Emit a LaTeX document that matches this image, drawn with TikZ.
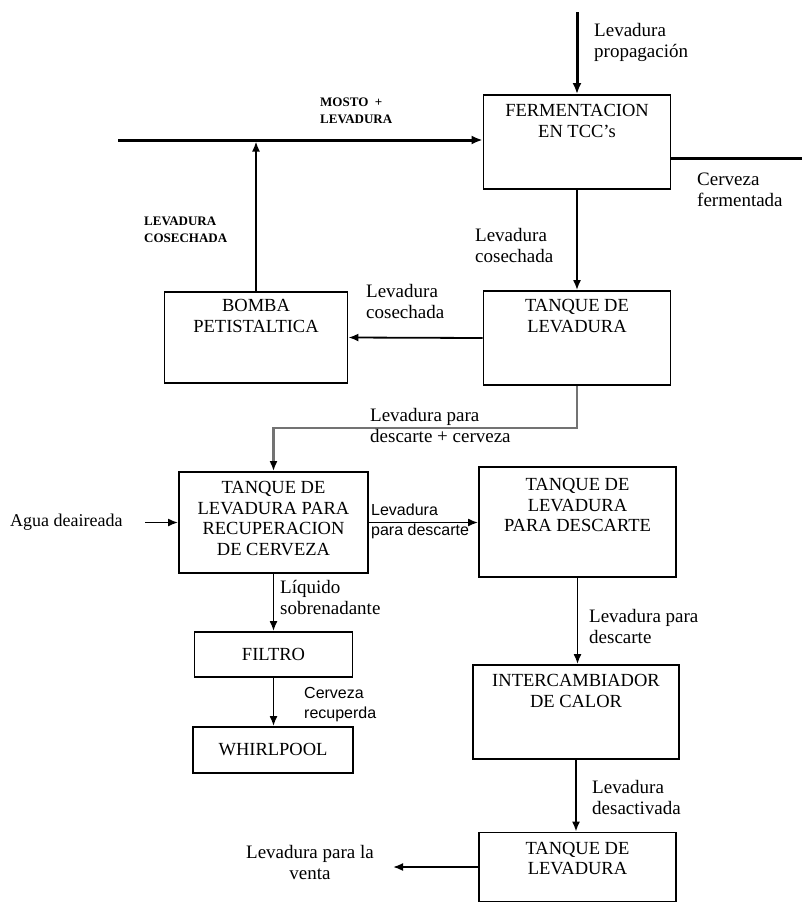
\documentclass[tikz,border=0pt]{standalone}
\usepackage{fontspec}
\setmainfont{Liberation Serif}
\newfontfamily\lsans{Liberation Sans}
\usetikzlibrary{arrows.meta,positioning}
\begin{document}
\begin{tikzpicture}[x=1pt,y=-1pt,
  box/.style={draw, line width=1.8pt, rectangle, inner sep=0pt},
  btxt/.style={font=\fontsize{18.5}{20.5}\selectfont, align=center, anchor=north, inner sep=0pt},
  ctxt/.style={font=\fontsize{18.5}{20.5}\selectfont},
  lbl/.style={font=\fontsize{19}{21}\selectfont, align=left, anchor=west, inner sep=0pt},
  slbl/.style={font=\lsans\fontsize{16}{20}\selectfont, align=left, anchor=west, inner sep=0pt},
  clbl/.style={font=\bfseries\fontsize{13}{17}\selectfont, align=left, anchor=west, inner sep=0pt},
  flow/.style={line width=1.8pt, -{Latex[length=10pt,width=8pt]}},
  grayflow/.style={line width=2.2pt, draw=black!55, -{Latex[length=10pt,width=8pt,color=black]}},
  thickflow/.style={line width=3pt, -{Latex[length=11pt,width=9pt]}},
]
\useasboundingbox (0,0) rectangle (802,903);

% boxes
\node[box, minimum width=187pt, minimum height=94pt] (ferm) at (577,142) {};
\node[box, minimum width=187pt, minimum height=94pt] (tq1) at (577,338) {};
\node[box, minimum width=183pt, minimum height=91pt] (bomba) at (256,337.5) {};
\node[box, minimum width=189pt, minimum height=101pt] (recup) at (273.5,522.5) {};
\node[box, minimum width=197pt, minimum height=110pt] (desc) at (577.5,522) {};
\node[box, minimum width=158pt, minimum height=45pt, ctxt] (filtro) at (273.5,654.5) {FILTRO};
\node[box, minimum width=160pt, minimum height=46pt, ctxt] (whirl) at (273,750) {WHIRLPOOL};
\node[box, minimum width=206pt, minimum height=94pt] (inter) at (576,712) {};
\node[box, minimum width=197pt, minimum height=69pt] (tq2) at (577.5,867) {};

% box texts
\node[btxt, below=10pt of ferm.north] (fermt) {FERMENTACION\\EN TCC's};
\node[btxt, below=9pt of tq1.north] (tq1t) {TANQUE DE\\LEVADURA};
\node[btxt, below=8pt of bomba.north] (bombat) {BOMBA\\PETISTALTICA};
\node[btxt, below=10pt of recup.north] (recupt) {TANQUE DE\\LEVADURA PARA\\RECUPERACION\\DE CERVEZA};
\node[btxt, below=12pt of desc.north] (desct) {TANQUE DE\\LEVADURA\\PARA DESCARTE};
\node[btxt, below=10pt of inter.north] (intert) {INTERCAMBIADOR\\DE CALOR};
\node[btxt, below=10pt of tq2.north] (tq2t) {TANQUE DE\\LEVADURA};

% free ends
\coordinate (top1) at (577,12);
\coordinate (in1) at (118,140);
\coordinate (out1) at (802,158);
\coordinate (j1) at (256,141.5);
\coordinate (j2) at (273.5,428);
\coordinate (agua) at (145,522.5);
\coordinate (venta) at (393,867);

% connectors
\draw[thickflow] (top1) -- (ferm.north);
\draw[thickflow] (in1) -- (in1 -| ferm.west);
\draw[line width=3pt] (ferm.east |- out1) -- (out1);
\draw[flow] (ferm.south) -- (tq1.north);
\draw[flow] (tq1.west) -- (bomba.east);
\draw[flow] (bomba.north) -- (j1);
\draw[grayflow] (tq1.south) |- (j2) -- (recup.north);
\draw[flow] (agua) -- (recup.west);
\draw[flow] (recup.east) -- (recup.east -| desc.west);
\draw[flow] (desc.south) -- (desc.south |- inter.north);
\draw[flow] (inter.south) -- (inter.south |- tq2.north);
\draw[flow] (tq2.west) -- (venta);
\draw[flow] (recup.south) -- (recup.south |- filtro.north);
\draw[flow] (filtro.south) -- (filtro.south |- whirl.north);

% labels
\node[lbl] (l1) at (594,42) {Levadura\\propagación};
\node[clbl] (l2) at (320,111) {MOSTO \ +\\LEVADURA};
\node[lbl] (l3) at (697,190) {Cerveza\\fermentada};
\node[clbl] (l4) at (144,230) {LEVADURA\\COSECHADA};
\node[lbl] (l5) at (475,245) {Levadura\\cosechada};
\node[lbl] (l6) at (366,301) {Levadura\\cosechada};
\node[lbl] (l7) at (370,425) {Levadura para\\descarte + cerveza};
\node[lbl, font=\fontsize{18}{21}\selectfont] (l8) at (10,522) {Agua deaireada};
\node[slbl] (l9) at (371,521) {Levadura\\para descarte};
\node[lbl] (l10) at (280,597) {Líquido\\sobrenadante};
\node[slbl] (l11) at (304,705) {Cerveza\\recuperda};
\node[lbl] (l12) at (589,626) {Levadura para\\descarte};
\node[lbl] (l13) at (592,797) {Levadura\\desactivada};
\node[lbl, align=center, anchor=center] (l14) at (310,862) {Levadura para la\\venta};
\end{tikzpicture}
\end{document}
